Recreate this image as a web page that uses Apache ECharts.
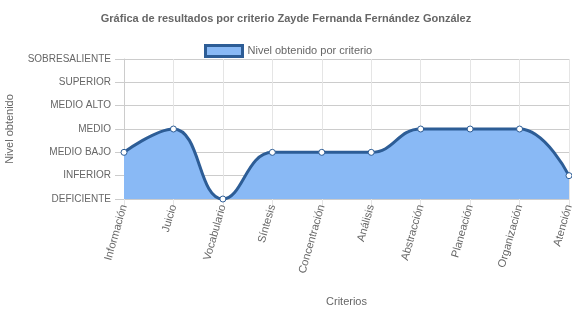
<!DOCTYPE html>
<html><head><meta charset="utf-8">
<script src="https://cdn.jsdelivr.net/npm/echarts@6/dist/echarts.min.js"></script>
<style>html,body{margin:0;padding:0;background:#fff}#c{width:572px;height:313px}</style>
</head><body><div id="c"></div>
<script>
const categories = ['Información','Juicio','Vocabulario','Síntesis','Concentración','Análisis','Abstracción','Planeación','Organización','Atención'];
const levelLabels = ['DEFICIENTE','INFERIOR','MEDIO BAJO','MEDIO','MEDIO ALTO','SUPERIOR','SOBRESALIENTE'];
const values = [2, 3, 0, 2, 2, 2, 3, 3, 3, 1];
const seriesName = 'Nivel obtenido por criterio';

const font = 'Liberation Sans, Arial, sans-serif';
const chart = echarts.init(document.getElementById('c'));
chart.setOption({
  animation: false,
  title: {
    text: 'Gráfica de resultados por criterio Zayde Fernanda Fernández González',
    left: 'center', top: 8,
    textStyle: {fontFamily: font, fontSize: 11, fontWeight: 'bold', color: '#666'}
  },
  legend: {
    top: 39, left: 199,
    itemWidth: 37, itemHeight: 11, itemGap: 5,
    textStyle: {fontFamily: font, fontSize: 11, color: '#666'},
    data: [{name: seriesName, icon: 'rect', itemStyle: {color: '#89b9f5', borderColor: '#2d5d96', borderWidth: 3}}]
  },
  grid: {left: 124, right: 3, top: 59, bottom: 114, containLabel: false, outerBoundsMode: 'none'},
  xAxis: {
    type: 'category', data: categories, boundaryGap: false,
    name: 'Criterios', nameLocation: 'middle', nameGap: 97,
    nameTextStyle: {fontFamily: font, fontSize: 11, color: '#666'},
    axisLine: {show: true, lineStyle: {color: '#ccc'}},
    axisTick: {show: true, length: 8, lineStyle: {color: '#e5e5e5'}},
    axisLabel: {rotate: 74, margin: 6, fontFamily: font, fontSize: 11, color: '#666'},
    splitLine: {show: true, lineStyle: {color: '#e5e5e5'}}
  },
  yAxis: {
    type: 'value', min: 0, max: 6, interval: 1,
    name: 'Nivel obtenido', nameLocation: 'middle', nameGap: 109, nameRotate: 90,
    nameTextStyle: {fontFamily: font, fontSize: 11, color: '#666'},
    axisLine: {show: true, lineStyle: {color: '#ccc'}},
    axisTick: {show: true, length: 9, lineStyle: {color: '#ccc'}},
    axisLabel: {margin: 13, fontFamily: font, fontSize: 10, color: '#666', formatter: v => levelLabels[v] || ''},
    splitLine: {show: true, lineStyle: {color: '#ccc'}}
  },
  series: [{
    name: seriesName, type: 'line', data: values, smooth: 0.45,
    symbol: 'circle', symbolSize: 6,
    itemStyle: {color: '#fff', borderColor: '#2d5d96', borderWidth: 1},
    lineStyle: {color: '#2d5d96', width: 3},
    areaStyle: {color: '#89b9f5', opacity: 1}
  }]
});
</script></body></html>
